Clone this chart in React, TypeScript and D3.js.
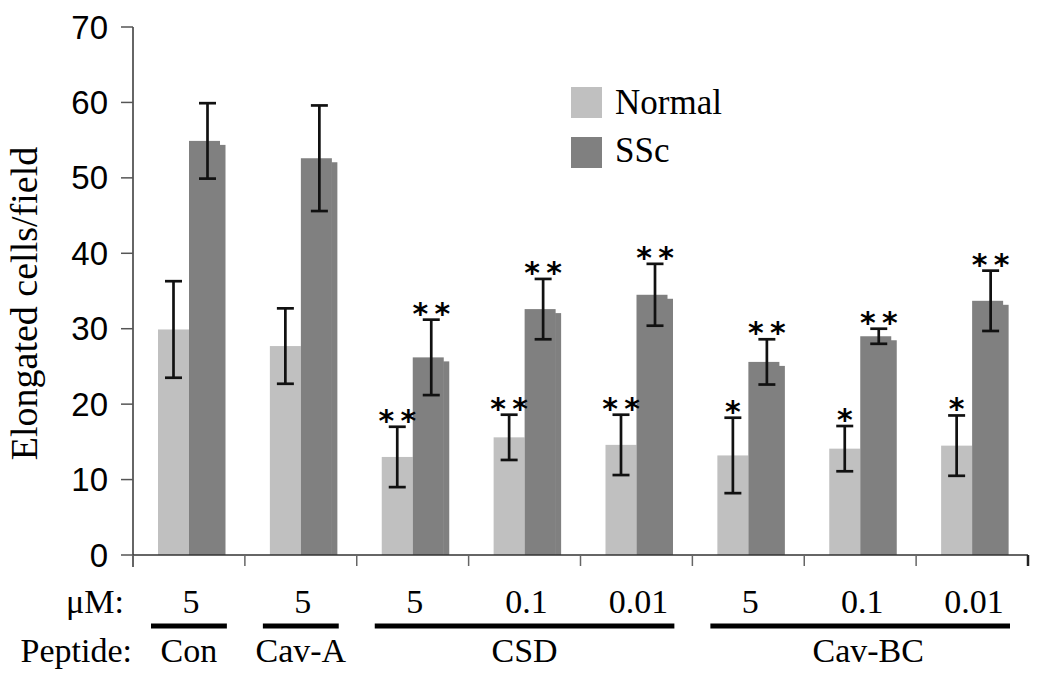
import React from "react";
import * as d3 from "d3";

const categories = ["Con 5", "Cav-A 5", "CSD 5", "CSD 0.1", "CSD 0.01", "Cav-BC 5", "Cav-BC 0.1", "Cav-BC 0.01"];
const doses = ["5", "5", "5", "0.1", "0.01", "5", "0.1", "0.01"];
const normalMean = [29.9, 27.7, 13.0, 15.6, 14.6, 13.2, 14.1, 14.5];
const normalErr = [6.4, 5.0, 4.0, 3.0, 4.0, 5.0, 3.0, 4.0];
const sscMean = [54.9, 52.6, 26.2, 32.6, 34.5, 25.6, 29.0, 33.7];
const sscErr = [5.0, 7.0, 5.0, 4.0, 4.1, 3.0, 1.0, 4.0];
const normalSig = ["", "", "**", "**", "**", "*", "*", "*"];
const sscSig = ["", "", "**", "**", "**", "**", "**", "**"];
const peptideNames = ["Con", "Cav-A", "CSD", "Cav-BC"];
const peptideStart = [0, 1, 2, 5];
const peptideEnd = [0, 1, 4, 7];
const yTicks = [0, 10, 20, 30, 40, 50, 60, 70];
const seriesNames = ["Normal", "SSc"];

const COL_N = "#c0c0c0";
const COL_S = "#808080";

export default function App() {
  const W = 1050, H = 684;
  const x0 = 133, x1 = 1028, yTop = 27, yBot = 555;
  const y = d3.scaleLinear().domain([0, 70]).range([yBot, yTop]);
  const xb = d3.scaleBand<number>().domain(d3.range(categories.length)).range([x0, x1]).padding(0);
  const bw = xb.bandwidth();
  const nOff = 25, nW = 31, sOff = 56, sW = 31, tailW = 6;
  const sans = "Liberation Sans, Arial, sans-serif";
  const serif = "Liberation Serif, Times New Roman, serif";
  const astFont = "DejaVu Sans, sans-serif";

  const stars = (cx: number, top: number, s: string, key: string) => {
    if (!s) return null;
    const n = s.length;
    const gap = 22;
    return (
      <g key={key}>
        {d3.range(n).map((i) => (
          <text key={i} x={cx + (i - (n - 1) / 2) * gap} y={top + 4} textAnchor="middle"
            fontFamily={astFont} fontWeight="bold" fontSize={30} fill="#000">*</text>
        ))}
      </g>
    );
  };

  const errBar = (cx: number, m: number, e: number, key: string) => (
    <g key={key} stroke="#111" strokeWidth={2.7}>
      <line x1={cx} x2={cx} y1={y(m + e)} y2={y(m - e)} />
      <line x1={cx - 8.5} x2={cx + 8.5} y1={y(m + e)} y2={y(m + e)} />
      <line x1={cx - 8.5} x2={cx + 8.5} y1={y(m - e)} y2={y(m - e)} />
    </g>
  );

  const serifStyle = { fontFamily: serif };

  return (
    <svg width={W} height={H} style={{ position: "absolute", left: 0, top: 0, background: "#fff" }}>
      <rect width={W} height={H} fill="#fff" />
      {categories.map((c, i) => {
        const bx = xb(i)!;
        return (
          <g key={c}>
            <rect x={bx + nOff} y={y(normalMean[i])} width={nW} height={yBot - y(normalMean[i])} fill={COL_N} />
            <rect x={bx + sOff} y={y(sscMean[i])} width={sW} height={yBot - y(sscMean[i])} fill={COL_S} />
            <rect x={bx + sOff + sW - 0.5} y={y(sscMean[i]) + 4} width={tailW} height={yBot - y(sscMean[i]) - 4} fill={COL_S} />
          </g>
        );
      })}
      {categories.map((c, i) => {
        const bx = xb(i)!;
        const cn = bx + nOff + nW / 2;
        const cs = bx + sOff + (sW + tailW) / 2;
        return (
          <g key={"e" + c}>
            {errBar(cn, normalMean[i], normalErr[i], "n")}
            {errBar(cs, sscMean[i], sscErr[i], "s")}
            {stars(cn, y(normalMean[i] + normalErr[i]), normalSig[i], "sn")}
            {stars(cs, y(sscMean[i] + sscErr[i]), sscSig[i], "ss")}
          </g>
        );
      })}
      <line x1={x0} x2={x0} y1={yTop} y2={yBot + 12} stroke="#333" strokeWidth={1.5} />
      {yTicks.map((t) => (
        <g key={t}>
          <line x1={x0 - 12} x2={x0} y1={y(t)} y2={y(t)} stroke="#555" strokeWidth={1.5} />
          <text x={108} y={y(t)} dy="0.35em" textAnchor="end" fontFamily={sans} fontSize={33} fill="#000">{t}</text>
        </g>
      ))}
      <line x1={x0} x2={x1} y1={yBot} y2={yBot} stroke="#333" strokeWidth={1.5} />
      {d3.range(categories.length + 1).map((i) => {
        const tx = i < categories.length ? xb(i)! : x1;
        return <line key={"t" + i} x1={tx} x2={tx} y1={yBot} y2={yBot + 11} stroke={i === categories.length ? "#222" : "#666"} strokeWidth={i === categories.length ? 2.5 : 1.5} />;
      })}
      <text transform={`translate(37,${(140 + 467) / 2}) rotate(-90)`} textAnchor="middle" style={serifStyle} fontSize={38} fill="#000">Elongated cells/field</text>
      {seriesNames.map((s, i) => (
        <g key={s}>
          <rect x={571} y={87 + i * 50} width={31} height={31} fill={i === 0 ? COL_N : COL_S} />
          <text x={615} y={114 + i * 48} style={serifStyle} fontSize={35} fill="#000">{s}</text>
        </g>
      ))}
      <text x={124} y={613} textAnchor="end" style={serifStyle} fontSize={34} fill="#000">μM:</text>
      {doses.map((d, i) => (
        <text key={"d" + i} x={xb(i)! + bw / 2 + 2} y={613} textAnchor="middle" style={serifStyle} fontSize={34} fill="#000">{d}</text>
      ))}
      <text x={132} y={662} textAnchor="end" style={serifStyle} fontSize={34} fill="#000">Peptide:</text>
      {peptideNames.map((p, k) => {
        const a = xb(peptideStart[k])! + 18;
        const b = xb(peptideEnd[k])! + bw - 18;
        return (
          <g key={p}>
            <line x1={a} x2={b} y1={626} y2={626} stroke="#000" strokeWidth={5} />
            <text x={(a + b) / 2 + (k === 3 ? 8 : 0)} y={662} textAnchor="middle" style={serifStyle} fontSize={34} fill="#000">{p}</text>
          </g>
        );
      })}
    </svg>
  );
}
